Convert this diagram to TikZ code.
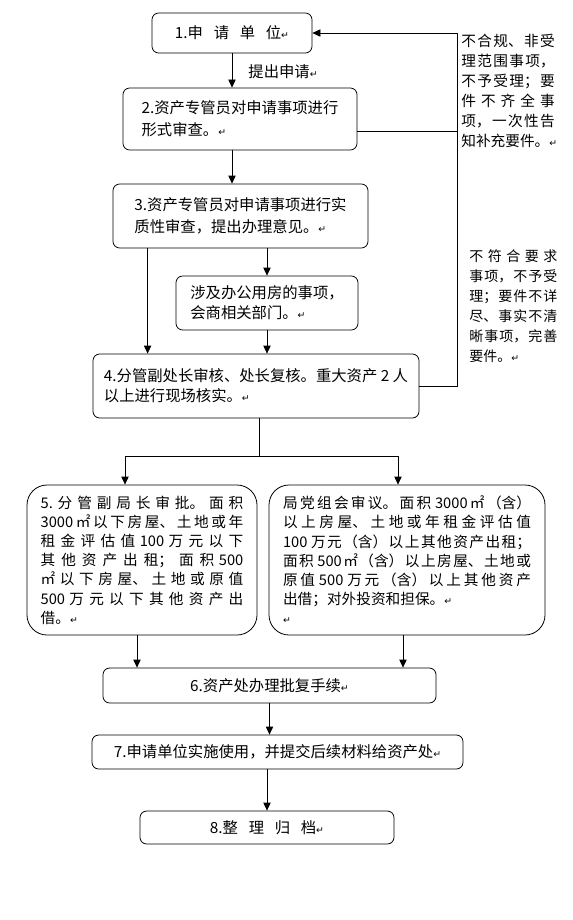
\documentclass[tikz,border=0pt]{standalone}
\usepackage{fontspec}
\newfontfamily\cjk{Noto Sans CJK SC}
\newfontfamily\dejavu{DejaVu Sans}
\usetikzlibrary{arrows.meta,calc}
\newcommand\retmark{{\dejavu\fontsize{7pt}{7pt}\selectfont ↵}}
\newcommand\gap{\hspace{0.7em}}
\tikzset{
  box/.style={draw, rounded corners=5pt, align=left, inner sep=2pt},
  bigbox/.style={box, rounded corners=15pt},
  note/.style={align=left, inner sep=0pt, anchor=north west},
  spread/.style={align=justify, text width=#1,
    execute at begin node={\XeTeXlinebreaklocale "zh"\XeTeXlinebreakskip=0pt plus 6pt\XeTeXlinebreakpenalty=10000\tolerance=10000\relax}},
}
\begin{document}
\begin{tikzpicture}[x=0.75pt, y=-0.75pt, line cap=round, line join=round, line width=0.6pt,
  >={Stealth[length=6pt,width=5.5pt,inset=0pt]}, font=\cjk\fontsize{11.5pt}{15pt}\selectfont]
  \useasboundingbox (0,0) rectangle (572,920);
  % main column
  \node[box, minimum width=120pt, minimum height=30pt] (n1) at (232,33) {1.申\gap 请\gap 单\gap 位\retmark};
  \node[box, minimum width=175.5pt, minimum height=46.5pt] (n2) at (240,119) {2.资产专管员对申请事项进行\\[1.5pt]形式审查。\retmark};
  \node[box, minimum width=191.25pt, minimum height=48pt] (n3) at (240.5,216) {3.资产专管员对申请事项进行实\\[1.5pt]质性审查，提出办理意见。\retmark};
  \node[box, minimum width=136.5pt, minimum height=40.5pt] (noffice) at (267,303) {涉及办公用房的事项，\\会商相关部门。\retmark};
  \node[box, minimum width=244.5pt, minimum height=48pt] (n4) at (256,386) {4.分管副处长审核、处长复核。重大资产 2 人\\以上进行现场核实。\retmark};
  \node[bigbox, spread=152pt, minimum width=172.5pt, minimum height=112.5pt,
    font=\cjk\fontsize{11pt}{14.4pt}\selectfont] (n5) at (142,560)
    {5.分管副局长审批。面积\linebreak 3000㎡以下房屋、土地或年\linebreak 租金评估值 100 万元以下\linebreak 其他资产出租；面积 500\linebreak ㎡以下房屋、土地或原值\linebreak 500 万元以下其他资产出\linebreak 借。\retmark};
  \node[bigbox, spread=186pt, minimum width=207pt, minimum height=112.5pt,
    font=\cjk\fontsize{11pt}{14.4pt}\selectfont] (nparty) at (407,560)
    {局党组会审议。面积 3000㎡（含）\linebreak 以上房屋、土地或年租金评估值\linebreak 100 万元（含）以上其他资产出租；\linebreak 面积 500㎡（含）以上房屋、土地或\linebreak 原值 500 万元（含）以上其他资产\linebreak 出借；对外投资和担保。\retmark\newline\retmark};
  \node[box, minimum width=249.75pt, minimum height=26.25pt] (n6) at (269.5,685.5) {6.资产处办理批复手续\retmark};
  \node[box, minimum width=278.25pt, minimum height=25.5pt] (n7) at (277.5,752) {7.申请单位实施使用，并提交后续材料给资产处\retmark};
  \node[box, minimum width=190.5pt, minimum height=24.75pt] (n8) at (267,827.5) {8.整\gap 理\gap 归\gap 档\retmark};
  % side notes
  \node (lbl) at (283,72) {提出申请\retmark};
  \node[note, spread=70pt, font=\cjk\fontsize{11pt}{15pt}\selectfont] (t1) at (461,34)
    {不合规、非受\linebreak 理范围事项，\linebreak 不予受理；要\linebreak 件不齐全事\linebreak 项，一次性告\linebreak 知补充要件。\retmark};
  \node[note, spread=66pt, font=\cjk\fontsize{10.5pt}{15pt}\selectfont] (t2) at (469,249)
    {不符合要求\linebreak 事项，不予受\linebreak 理；要件不详\linebreak 尽、事实不清\linebreak 晰事项，完善\linebreak 要件。\retmark};
  % connectors
  \coordinate (fb) at (457,386);
  \coordinate (sp) at (259,456);
  \draw[->] (n1.south) -- (n1.south |- n2.north);
  \draw[->] (n1.south |- n2.south) -- (n1.south |- n3.north);
  \draw[->] ([xshift=26.25pt]n3.south west) -- ([xshift=26.25pt]n3.south west |- n4.north);
  \draw[->] (noffice.north |- n3.south) -- (noffice.north);
  \draw[->] (noffice.south) -- (noffice.south |- n4.north);
  \draw[->] (n4.east) -- (fb) |- (n1.east);
  \draw ([yshift=-9pt]n2.east) -- ([yshift=-9pt]n2.east -| fb);
  \draw (n4.south -| sp) -- (sp);
  \draw[->] (sp) -| ([xshift=-12.75pt]n5.north);
  \draw[->] (sp) -| ([xshift=-6.75pt]nparty.north);
  \draw[->] ([xshift=-3.75pt]n5.south) -- ([xshift=-3.75pt]n5.south |- n6.north);
  \draw[->] ([xshift=-3pt]nparty.south) -- ([xshift=-3pt]nparty.south |- n6.north);
  \draw[->] (n6.south) -- (n6.south |- n7.north);
  \draw[->] (n8.north |- n7.south) -- (n8.north);
\end{tikzpicture}
\end{document}
